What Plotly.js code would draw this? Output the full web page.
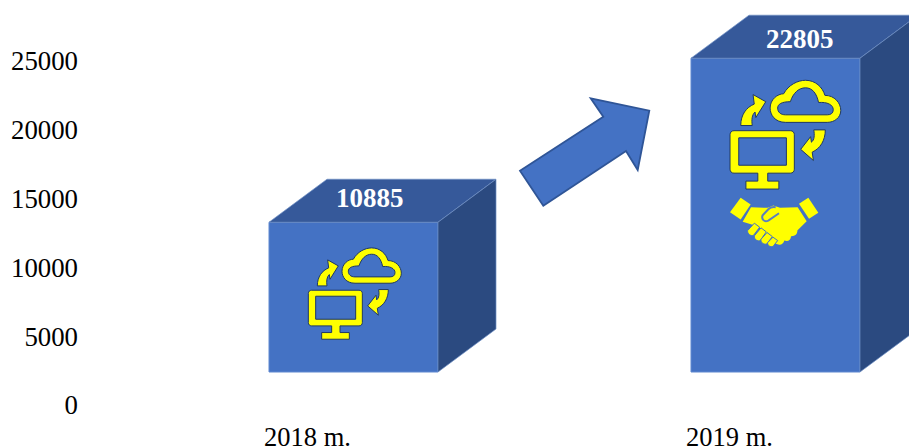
<!DOCTYPE html>
<html>
<head>
<meta charset="utf-8">
<script src="https://cdn.plot.ly/plotly-3.0.1.min.js"></script>
<style>html,body{margin:0;padding:0;background:#fff}</style>
</head>
<body>
<div id="chart" style="width:909px;height:447px"></div>
<script>
const categories = ['2018 m.', '2019 m.'];
const values = [10885, 22805];
const yTicks = [0, 5000, 10000, 15000, 20000, 25000];

// layout constants
const W = 909, H = 447;
const catStep = 422, pxPerVal = 344 / 25000;
const barX0 = 353.5, barY0 = 372, labelX0 = 307.5, axisY0 = 405;
const depthX = 58 / catStep, depthY = 43 / pxPerVal, barW = 169 / catStep;
const BLUE = '#4472c4', TOP = '#36599a', SIDE = '#2b4a80', EDGE = '#5f88d0', DARK = '#1f3864', YEL = '#ffff00';
const serif = '"Liberation Serif","Times New Roman",serif';

const idx = categories.map((c, i) => i);

const traces = [
  {x: idx, y: values, type: 'scatter', mode: 'none', xaxis: 'x', yaxis: 'y', hoverinfo: 'skip', showlegend: false},
  {x: idx, y: values, type: 'bar', width: barW, xaxis: 'x2', yaxis: 'y2', hoverinfo: 'skip', showlegend: false,
   marker: {color: BLUE, line: {color: EDGE, width: 1}}}
];
idx.forEach(i => {
  const l = i - barW / 2, r = i + barW / 2, v = values[i];
  traces.push({x: [l, r, r + depthX, l + depthX, l], y: [v, v, v + depthY, v + depthY, v],
    type: 'scatter', mode: 'lines', fill: 'toself', fillcolor: TOP, line: {color: '#6f8fc4', width: 0.7},
    xaxis: 'x2', yaxis: 'y2', hoverinfo: 'skip', showlegend: false});
  traces.push({x: [r, r + depthX, r + depthX, r, r], y: [v, v + depthY, depthY, 0, v],
    type: 'scatter', mode: 'lines', fill: 'toself', fillcolor: SIDE, line: {color: '#6f8fc4', width: 0.7},
    xaxis: 'x2', yaxis: 'y2', hoverinfo: 'skip', showlegend: false});
});

// icon outlines, drawn in a local y-down grid and scaled to pixels
const monitorPath = 'M35 135 L177 135 C183 135 187 139 187 145 L187 232 C187 238 183 242 177 242 L120 242 L120 262 L148 262 L148 282 L65 282 L65 262 L95 262 L95 242 L35 242 C29 242 25 238 25 232 L25 145 C25 139 29 135 35 135 Z M47 153 L47 222 L167 222 L167 153 Z';
const cloudPath = 'M165 114 C138 114 126 95 126 78 C126 56 145 42 160 42 C172 20 195 8 215 8 C240 8 258 25 264 46 C288 46 304 65 304 84 C304 102 288 114 270 114 Z M165 95 L270 95 C279 95 285 91 285 82 C285 70 270 62 248 64 C243 40 232 27 215 27 C198 27 184 40 177 62 C155 62 145 68 145 78 C145 88 152 95 165 95 Z';
const arrowUp = 'M52 122 C52 95 66 76 86 68 L83 44 L115 62 L90 102 L88 88 C80 95 79 108 81 122 Z';
const arrowDown = 'M265 133 C265 160 252 180 232 189 L235 210 L203 182 L228 150 L230 164 C238 158 238 146 236 133 Z';
const handCuffs = ['M47 20 L77 40 L47 85 L15 63 Z', 'M250 20 L222 38 L252 83 L280 65 Z'];
const handBody = 'M53 92 L78 48 L128 50 L145 43 L165 50 L218 48 L245 90 L217 118 C218 128 210 136 198 135 C198 147 188 152 178 148 C175 160 165 164 150 157 L128 140 L100 105 L80 100 Z';
const handGap = 'M162 66 L130 88 C118 94 108 84 113 72 L130 54 C136 48 145 47 152 48';
const handFingers = ['M88 96 L104 108 L86 132 C78 136 66 128 68 118 Z', 'M108 110 L124 122 L106 148 C98 152 86 144 88 134 Z', 'M126 124 L142 136 L126 158 C118 162 106 154 108 144 Z', 'M144 138 L158 148 L144 166 C136 169 126 162 128 154 Z'];
const bigArrow = 'M520 170.7 L543.3 205.7 L626 151 L637.7 170 L649.3 110.7 L590.7 98.3 L603.3 116.7 Z';

function place(path, dx, dy, s) {
  return path.replace(/(-?\d+(?:\.\d+)?) (-?\d+(?:\.\d+)?)/g, (m, a, b) =>
    (dx + a * s).toFixed(2) + ' ' + (-(dy + b * s)).toFixed(2));
}
function iconShape(path, i, dx, dy, s, fill, lineCol, lineW) {
  return {type: 'path', xref: 'x2', yref: 'y2', xsizemode: 'pixel', ysizemode: 'pixel',
    xanchor: i, yanchor: values[i], path: place(path, dx, dy, s), fillrule: 'evenodd',
    fillcolor: fill, line: {color: lineCol, width: lineW}, layer: 'above'};
}
const shapes = [];
[[0, -53.5, 23, 1 / 3], [1, -55.4, 18.9, 0.397]].forEach(([i, dx, dy, s]) => {
  [monitorPath, cloudPath, arrowUp, arrowDown].forEach(p => shapes.push(iconShape(p, i, dx, dy, s, YEL, DARK, 1)));
});
handCuffs.forEach(p => shapes.push(iconShape(p, 1, -50.5, 133, 1 / 3, YEL, 'rgba(0,0,0,0)', 0)));
shapes.push(iconShape(handBody, 1, -50.5, 133, 1 / 3, YEL, 'rgba(0,0,0,0)', 0));
handFingers.forEach(p => shapes.push(iconShape(p, 1, -50.5, 133, 1 / 3, YEL, BLUE, 1)));
shapes.push(iconShape(handGap, 1, -50.5, 133, 1 / 3, 'rgba(0,0,0,0)', '#5a7fc0', 2));
// growth arrow between the bars
shapes.push({type: 'path', xref: 'x2', yref: 'y2', xsizemode: 'pixel', ysizemode: 'pixel', xanchor: 0, yanchor: 0,
  path: place(bigArrow, -barX0, -barY0, 1), fillcolor: BLUE, line: {color: '#2f5597', width: 1.8}, layer: 'above'});

const labelShift = [[16.5, 24], [24, 19.5]];
const annotations = values.map((v, i) => ({
  x: i, y: v, xref: 'x2', yref: 'y2', text: String(v), showarrow: false,
  xshift: labelShift[i][0], yshift: labelShift[i][1],
  font: {family: serif, size: 27, color: '#ffffff', weight: 'bold'}
}));

const layout = {
  width: W, height: H, margin: {l: 0, r: 0, t: 0, b: 0}, autosize: false,
  paper_bgcolor: '#fff', plot_bgcolor: 'rgba(0,0,0,0)', showlegend: false,
  xaxis: {range: [-labelX0 / catStep, (W - labelX0) / catStep], tickvals: idx, ticktext: categories,
    anchor: 'free', position: 29 / H, showgrid: false, zeroline: false, showline: false, ticks: '',
    tickfont: {family: serif, size: 26.5, color: '#000'}},
  yaxis: {range: [-(H - axisY0) / pxPerVal, axisY0 / pxPerVal], tickvals: yTicks, ticktext: yTicks.map(String),
    anchor: 'free', position: 78 / W, showgrid: false, zeroline: false, showline: false, ticks: '',
    tickfont: {family: serif, size: 26.8, color: '#000'}},
  xaxis2: {range: [-barX0 / catStep, (W - barX0) / catStep], overlaying: 'x', anchor: 'y2', visible: false},
  yaxis2: {range: [-(H - barY0) / pxPerVal, barY0 / pxPerVal], overlaying: 'y', anchor: 'x2', visible: false},
  shapes: shapes, annotations: annotations
};
Plotly.newPlot('chart', traces, layout, {displayModeBar: false, staticPlot: true});
</script>
</body>
</html>
